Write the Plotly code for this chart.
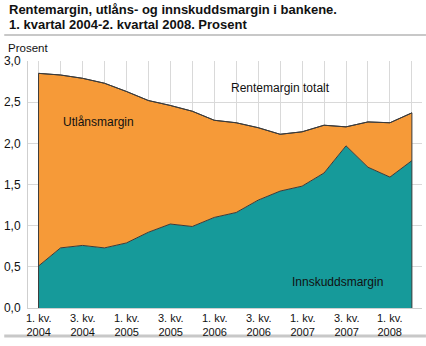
import plotly.graph_objects as go

# Quarterly margins for Norwegian banks, percent
quarters = ["1. kv. 2004", "2. kv. 2004", "3. kv. 2004", "4. kv. 2004",
            "1. kv. 2005", "2. kv. 2005", "3. kv. 2005", "4. kv. 2005",
            "1. kv. 2006", "2. kv. 2006", "3. kv. 2006", "4. kv. 2006",
            "1. kv. 2007", "2. kv. 2007", "3. kv. 2007", "4. kv. 2007",
            "1. kv. 2008", "2. kv. 2008"]
innskuddsmargin = [0.51, 0.73, 0.76, 0.73, 0.79, 0.92, 1.02, 0.99, 1.10,
                   1.16, 1.31, 1.42, 1.48, 1.64, 1.97, 1.71, 1.59, 1.79]
utlansmargin = [2.34, 2.10, 2.03, 2.00, 1.84, 1.60, 1.44, 1.40, 1.18,
                1.09, 0.88, 0.69, 0.66, 0.58, 0.23, 0.55, 0.66, 0.58]
y_ticks = [0, 0.5, 1.0, 1.5, 2.0, 2.5, 3.0]

x_idx = list(range(len(quarters)))
rentemargin = [a + b for a, b in zip(innskuddsmargin, utlansmargin)]

TEAL = "#169a9a"
ORANGE = "#f69a38"
EDGE = "#3a3a3a"
FONT = "Arial, Liberation Sans, sans-serif"

fig = go.Figure()
fig.add_trace(go.Scatter(
    x=x_idx, y=innskuddsmargin, mode="lines", stackgroup="one",
    line=dict(color=EDGE, width=1), fillcolor=TEAL, name="Innskuddsmargin"))
fig.add_trace(go.Scatter(
    x=x_idx, y=utlansmargin, mode="lines", stackgroup="one",
    line=dict(color=EDGE, width=1), fillcolor=ORANGE, name="Utlånsmargin"))
# outline of the total area, closing the left and right edges
fig.add_trace(go.Scatter(
    x=[x_idx[0]] + x_idx + [x_idx[-1]], y=[0] + rentemargin + [0],
    mode="lines", line=dict(color=EDGE, width=1), hoverinfo="skip",
    name="Rentemargin totalt"))

# plot area: left 24px, right 422px, top 61px, bottom 308px
L, R, T, B = 24, 422, 61, 308
W, H = 426, 346
pw, ph = R - L, B - T


def px_x(p):
    return (p - L) / pw


def px_y(p):
    return (B - p) / ph


def label(text, x, y, size=12, anchor="center", bold=False, xref="paper"):
    if bold:
        text = f"<b>{text}</b>"
    return dict(text=text, x=x, y=px_y(y), xref=xref, yref="paper",
                xanchor=anchor, yanchor="middle", showarrow=False,
                font=dict(size=size, color="#111", family=FONT))


annotations = [
    label("Rentemargin, utlåns- og innskuddsmargin i bankene.", px_x(3), 10,
          size=13, anchor="left", bold=True),
    label("1. kvartal 2004-2. kvartal 2008. Prosent", px_x(3), 25,
          size=13, anchor="left", bold=True),
    label("Prosent", px_x(2), 48, size=11.5, anchor="left"),
    label("Utlånsmargin", px_x(95), 122),
    label("Rentemargin totalt", px_x(279), 88),
    label("Innskuddsmargin", px_x(337), 282),
]

# two-line quarter labels on every second quarter
for i, q in enumerate(quarters):
    if i % 2 == 0:
        num, kv, year = q.split(" ")
        annotations.append(label(f"{num} {kv}<br>{year}", i, 325, size=11,
                                 xref="x"))

shapes = [
    dict(type="line", xref="paper", yref="paper", x0=px_x(0), x1=px_x(W),
         y0=px_y(35), y1=px_y(35), line=dict(color="#c8c8c8", width=2)),
    dict(type="line", xref="paper", yref="paper", x0=px_x(0), x1=px_x(W),
         y0=px_y(336), y1=px_y(336), line=dict(color="#c8c8c8", width=3)),
]

fig.update_layout(
    width=W, height=H, margin=dict(l=L, r=W - R, t=T, b=H - B),
    paper_bgcolor="white", plot_bgcolor="white",
    separators=", ", showlegend=False,
    font=dict(family=FONT, size=12, color="#111"),
    annotations=annotations, shapes=shapes,
    xaxis=dict(range=[-0.48, 17.46], tickvals=x_idx, showticklabels=False,
               showgrid=True, gridcolor="#d9d9d9", gridwidth=1,
               showline=True, linecolor="#cfcfcf", linewidth=1,
               ticks="", zeroline=False, fixedrange=True),
    yaxis=dict(range=[0, 3.0], tickvals=y_ticks,
               tickformat=".1f", showgrid=True, gridcolor="#d9d9d9",
               gridwidth=1, showline=True, linecolor="#cfcfcf", linewidth=1,
               ticks="", zeroline=False, fixedrange=True,
               ticklabelstandoff=4,
               tickfont=dict(size=12, color="#111", family=FONT)),
)

fig.write_html("out.html")
